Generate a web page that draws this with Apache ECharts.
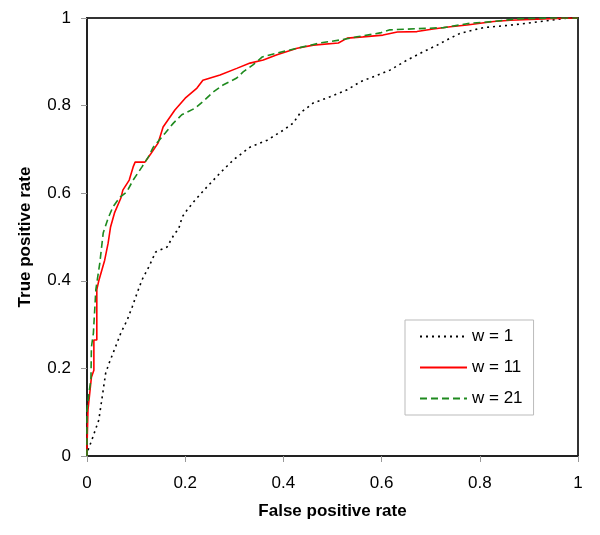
<!DOCTYPE html>
<html>
<head>
<meta charset="utf-8">
<script src="https://cdn.jsdelivr.net/npm/echarts@6/dist/echarts.min.js"></script>
<style>html,body{margin:0;padding:0;background:#fff}#c{width:600px;height:535px}</style>
</head>
<body>
<div id="c"></div>
<script>
var xTicks = [0, 0.2, 0.4, 0.6, 0.8, 1];
var yTicks = [0, 0.2, 0.4, 0.6, 0.8, 1];
var seriesNames = ['w = 1', 'w = 11', 'w = 21'];

var rocW1 = [[0,0],[0,0.007],[0.01,0.037],[0.024,0.082],[0.031,0.135],[0.038,0.189],[0.045,0.212],[0.058,0.249],[0.069,0.281],[0.082,0.311],[0.092,0.34],[0.102,0.372],[0.112,0.402],[0.126,0.432],[0.14,0.466],[0.163,0.477],[0.179,0.509],[0.186,0.516],[0.194,0.546],[0.204,0.562],[0.22,0.584],[0.244,0.614],[0.271,0.646],[0.298,0.676],[0.332,0.705],[0.367,0.721],[0.4,0.744],[0.42,0.76],[0.434,0.783],[0.461,0.806],[0.495,0.82],[0.53,0.836],[0.556,0.854],[0.597,0.872],[0.617,0.881],[0.652,0.904],[0.685,0.923],[0.713,0.938],[0.74,0.954],[0.76,0.965],[0.807,0.978],[0.856,0.983],[0.897,0.988],[0.944,0.995],[0.98,1],[1,1]];

var rocW11 = [[0,0],[0,0.02],[0.002,0.105],[0.009,0.18],[0.014,0.196],[0.014,0.265],[0.02,0.265],[0.02,0.38],[0.024,0.4],[0.036,0.447],[0.043,0.486],[0.048,0.523],[0.056,0.555],[0.069,0.589],[0.073,0.607],[0.086,0.63],[0.094,0.66],[0.098,0.671],[0.118,0.671],[0.13,0.69],[0.145,0.715],[0.155,0.751],[0.179,0.79],[0.2,0.817],[0.224,0.84],[0.236,0.858],[0.271,0.87],[0.305,0.885],[0.332,0.897],[0.359,0.904],[0.387,0.916],[0.428,0.931],[0.461,0.938],[0.512,0.943],[0.53,0.954],[0.562,0.957],[0.603,0.961],[0.632,0.968],[0.672,0.969],[0.705,0.975],[0.74,0.98],[0.774,0.984],[0.828,0.992],[0.862,0.995],[0.97,0.9995],[1,1]];

var rocW21 = [[0,0],[0,0.105],[0.004,0.144],[0.008,0.174],[0.009,0.249],[0.013,0.28],[0.018,0.38],[0.026,0.44],[0.033,0.509],[0.043,0.543],[0.053,0.569],[0.067,0.591],[0.081,0.603],[0.094,0.63],[0.112,0.66],[0.125,0.683],[0.135,0.705],[0.159,0.737],[0.176,0.76],[0.193,0.779],[0.22,0.794],[0.24,0.813],[0.257,0.831],[0.277,0.847],[0.305,0.863],[0.318,0.877],[0.338,0.893],[0.357,0.911],[0.387,0.92],[0.428,0.931],[0.475,0.943],[0.516,0.95],[0.55,0.957],[0.597,0.966],[0.617,0.973],[0.726,0.978],[0.78,0.988],[0.828,0.992],[0.876,0.998],[0.95,1],[1,1]];

var font = 'Liberation Sans, Arial, sans-serif';
var chart = echarts.init(document.getElementById('c'), null, {renderer: 'canvas'});

function mkSeries(name, data, color, type, width) {
  return {
    name: name, type: 'line', data: data, symbol: 'none', showSymbol: false,
    lineStyle: {color: color, width: width, type: type},
    itemStyle: {color: color},
    emphasis: {disabled: true}, animation: false, z: 3
  };
}

chart.setOption({
  animation: false,
  grid: {left: 87, right: 22, top: 18, bottom: 79, show: true, borderColor: '#333', borderWidth: 2},
  xAxis: {
    type: 'value', min: 0, max: 1, interval: 0.2,
    name: 'False positive rate', nameLocation: 'middle', nameGap: 47,
    nameTextStyle: {fontFamily: font, fontSize: 17, fontWeight: 'bold', color: '#000'},
    axisLine: {show: true, lineStyle: {color: '#222', width: 2}},
    axisTick: {show: true, length: 6, lineStyle: {color: '#999', width: 1}},
    axisLabel: {fontFamily: font, fontSize: 17, color: '#000', margin: 19,
      formatter: function (v) { var r = Math.round(v * 10) / 10; return xTicks.indexOf(r) >= 0 ? String(r) : ''; }},
    splitLine: {show: false}
  },
  yAxis: {
    type: 'value', min: 0, max: 1, interval: 0.2,
    name: 'True positive rate', nameLocation: 'middle', nameGap: 53,
    nameTextStyle: {fontFamily: font, fontSize: 17, fontWeight: 'bold', color: '#000'},
    axisLine: {show: true, lineStyle: {color: '#222', width: 2}},
    axisTick: {show: true, length: 6, lineStyle: {color: '#999', width: 1}},
    axisLabel: {fontFamily: font, fontSize: 17, color: '#000', margin: 16,
      formatter: function (v) { var r = Math.round(v * 10) / 10; return yTicks.indexOf(r) >= 0 ? String(r) : ''; }},
    splitLine: {show: false}
  },
  legend: {
    orient: 'vertical', left: 405, top: 320,
    backgroundColor: '#fff', borderColor: '#bbb', borderWidth: 1, borderRadius: 0,
    padding: [8, 11, 8, 14], itemGap: 14, itemWidth: 47, itemHeight: 14,
    itemStyle: {opacity: 0, borderWidth: 0},
    textStyle: {fontFamily: font, fontSize: 17, color: '#000'},
    data: seriesNames, selectedMode: false
  },
  series: [
    mkSeries(seriesNames[0], rocW1, '#000000', [2, 4], 1.6),
    mkSeries(seriesNames[1], rocW11, '#ff0000', 'solid', 1.6),
    mkSeries(seriesNames[2], rocW21, '#1e8a1e', [7, 4], 1.6)
  ]
});
</script>
</body>
</html>
